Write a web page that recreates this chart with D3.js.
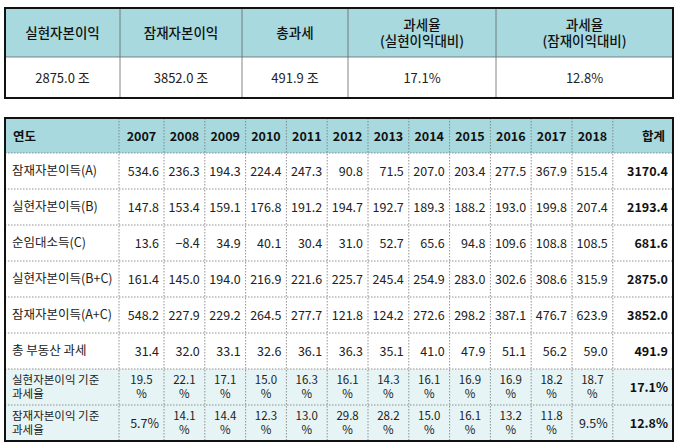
<!DOCTYPE html><html><head><meta charset="utf-8">
<script src="https://cdn.jsdelivr.net/npm/d3@7"></script>
<style>body{margin:0;background:#fff}</style></head><body>
<script>
const summaryHeaders=[["실현자본이익"],["잠재자본이익"],["총과세"],["과세율","(실현이익대비)"],["과세율","(잠재이익대비)"]];
const summaryValues=["2875.0 조","3852.0 조","491.9 조","17.1%","12.8%"];
const years=["2007","2008","2009","2010","2011","2012","2013","2014","2015","2016","2017","2018"];
const rowLabels=[["잠재자본이득(A)"],["실현자본이득(B)"],["순임대소득(C)"],["실현자본이득(B+C)"],["잠재자본이득(A+C)"],["총 부동산 과세"],["실현자본이익 기준","과세율"],["잠재자본이익 기준","과세율"]];
const potentialA=[534.6,236.3,194.3,224.4,247.3,90.8,71.5,207.0,203.4,277.5,367.9,515.4];
const realizedB=[147.8,153.4,159.1,176.8,191.2,194.7,192.7,189.3,188.2,193.0,199.8,207.4];
const rentalC=[13.6,-8.4,34.9,40.1,30.4,31.0,52.7,65.6,94.8,109.6,108.8,108.5];
const realizedBC=[161.4,145.0,194.0,216.9,221.6,225.7,245.4,254.9,283.0,302.6,308.6,315.9];
const potentialAC=[548.2,227.9,229.2,264.5,277.7,121.8,124.2,272.6,298.2,387.1,476.7,623.9];
const totalTax=[31.4,32.0,33.1,32.6,36.1,36.3,35.1,41.0,47.9,51.1,56.2,59.0];
const rateRealized=[19.5,22.1,17.1,15.0,16.3,16.1,14.3,16.1,16.9,16.9,18.2,18.7];
const ratePotential=[5.7,14.1,14.4,12.3,13.0,29.8,28.2,15.0,16.1,13.2,11.8,9.5];
const totals=["3170.4","2193.4","681.6","2875.0","3852.0","491.9","17.1%","12.8%"];

const F="'Noto Sans CJK KR','Noto Sans',sans-serif";
const svg=d3.select("body").append("svg").attr("width",680).attr("height",445).style("font-family",F);
const teal="#a7d9de", light="#e6f4f5";

const topX=d3.scaleOrdinal().domain(d3.range(6)).range([5,120,242,348,496,673]);
const tY=[8,57,98];
for(let i=0;i<5;i++){
  const x0=topX(i),x1=topX(i+1);
  svg.append("rect").attr("x",x0).attr("y",tY[0]).attr("width",x1-x0).attr("height",tY[1]-tY[0]).attr("fill",teal);
  const h=summaryHeaders[i];
  h.forEach((t,j)=>svg.append("text").attr("x",(x0+x1)/2).attr("y",(tY[0]+tY[1])/2+5+(j-(h.length-1)/2)*16)
    .attr("text-anchor","middle").attr("font-size",13.5).attr("font-weight",500).attr("fill","#111").text(t));
  svg.append("text").attr("x",(x0+x1)/2).attr("y",(tY[1]+tY[2])/2+5).attr("text-anchor","middle").attr("font-size",13).attr("fill","#222").text(summaryValues[i]);
  if(i>0) svg.append("line").attr("x1",x0).attr("x2",x0).attr("y1",tY[0]).attr("y2",tY[2]).attr("stroke","#666").attr("stroke-width",0.8);
}
svg.append("line").attr("x1",5).attr("x2",673).attr("y1",tY[1]).attr("y2",tY[1]).attr("stroke","#666").attr("stroke-width",0.8);
svg.append("rect").attr("x",5).attr("y",8).attr("width",668).attr("height",90).attr("fill","none").attr("stroke","#111").attr("stroke-width",2);

const cols=["연도",...years,"합계"];
const colEdges=[5,119,...d3.range(12).map(i=>164+i*40.8),673];
const bodyRows=[potentialA,realizedB,rentalC,realizedBC,potentialAC,totalTax,rateRealized,ratePotential];
const rowEdges=[118,153,...d3.range(8).map(i=>189+i*36)];
rowEdges[rowEdges.length-1]=441;
const ry=i=>rowEdges[i];
svg.append("rect").attr("x",5).attr("y",ry(0)).attr("width",668).attr("height",ry(1)-ry(0)).attr("fill",teal);
svg.append("rect").attr("x",5).attr("y",ry(7)).attr("width",668).attr("height",ry(9)-ry(7)).attr("fill",light);
cols.forEach((c,i)=>{
  const x0=colEdges[i],x1=colEdges[i+1];
  const isLab=i===0;
  svg.append("text").attr("x",isLab?x0+8:(i===13?x1-8:(x0+x1)/2)).attr("y",(ry(0)+ry(1))/2+5)
    .attr("text-anchor",isLab?"start":(i===13?"end":"middle")).attr("font-size",12.5).attr("font-weight","bold").attr("fill","#111").text(c);
});
const fmt=d3.format(".1f");
bodyRows.forEach((vals,r)=>{
  const y0=ry(r+1),y1=ry(r+2),cy=(y0+y1)/2;
  const lab=rowLabels[r];
  const lfs=lab.length>1?11.5:12.5;
  lab.forEach((t,j)=>svg.append("text").attr("x",12).attr("y",cy+4+(j-(lab.length-1)/2)*14).attr("font-size",lfs).attr("fill","#222").text(t));
  vals.forEach((v,i)=>{
    const x0=colEdges[i+1],x1=colEdges[i+2];
    const isRate=r>=6;
    const s=fmt(v);
    if(isRate && s.length>=4){
      [s,"%"].forEach((t,j)=>svg.append("text").attr("x",(x0+x1)/2).attr("y",cy+4+(j-0.5)*14).attr("text-anchor","middle").attr("font-size",11.5).attr("fill","#222").text(t));
    } else {
      svg.append("text").attr("x",x1-5).attr("y",cy+5).attr("text-anchor","end").attr("font-size",12.5).attr("fill","#222").text(isRate?s+"%":s);
    }
  });
  svg.append("text").attr("x",668).attr("y",cy+5).attr("text-anchor","end").attr("font-size",12.5).attr("font-weight","bold").attr("fill","#111").text(totals[r]);
});
colEdges.slice(1,-1).forEach(x=>svg.append("line").attr("x1",x).attr("x2",x).attr("y1",118).attr("y2",441).attr("stroke","#777").attr("stroke-width",0.8).attr("stroke-dasharray","1.5,1.5"));
rowEdges.slice(1,-1).forEach(y=>svg.append("line").attr("x1",5).attr("x2",673).attr("y1",y).attr("y2",y).attr("stroke","#777").attr("stroke-width",0.8).attr("stroke-dasharray","1.5,1.5"));
svg.append("rect").attr("x",5).attr("y",118).attr("width",668).attr("height",323).attr("fill","none").attr("stroke","#111").attr("stroke-width",2);
</script></body></html>
